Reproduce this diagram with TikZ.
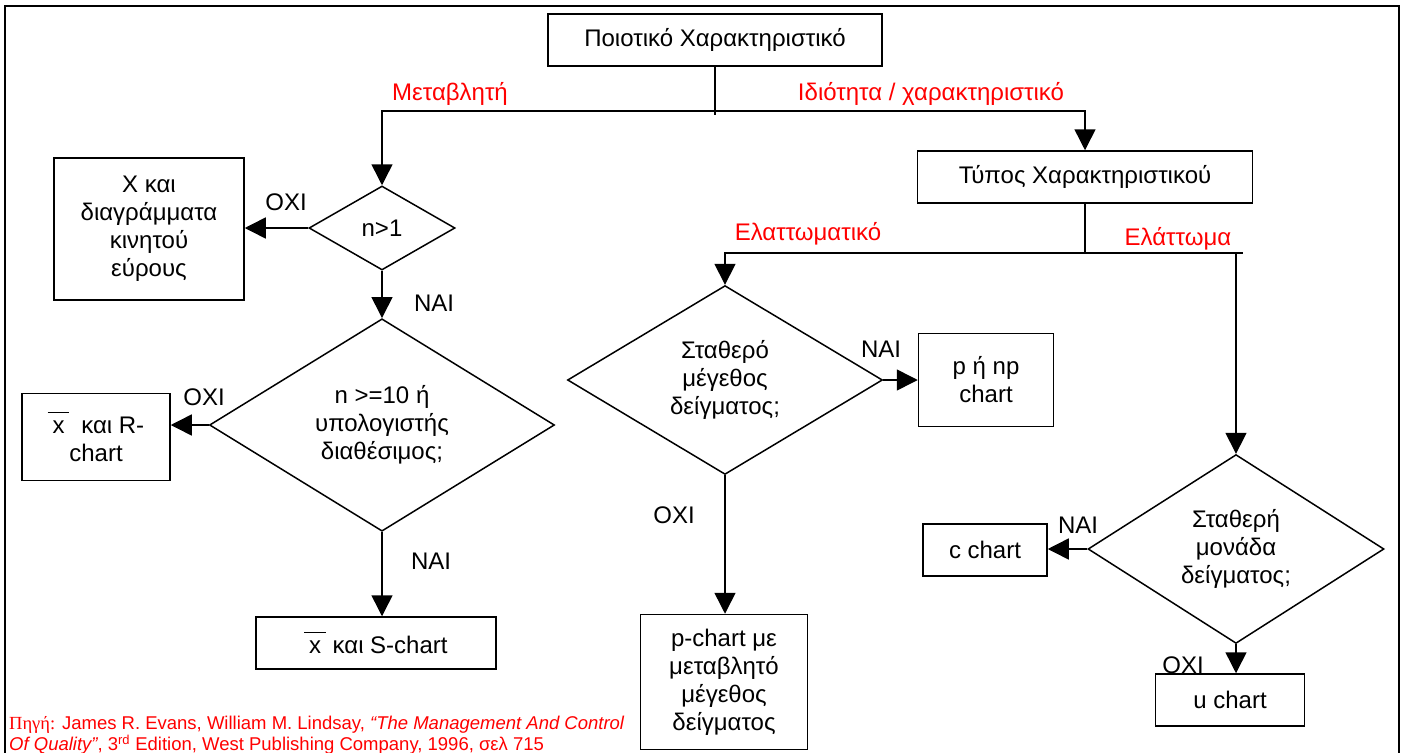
\documentclass[tikz,border=0pt]{standalone}
\usepackage{fontspec}
\setmainfont{Liberation Sans}
\newfontfamily\serifgr{Liberation Serif}
\usetikzlibrary{shapes.geometric,arrows.meta,positioning}

\newcommand{\xbar}{\hspace{0.2em}\rlap{\hspace{-0.2em}\raisebox{0.85em}{\rule{0.9em}{1.5pt}}}x\hspace{0.2em}}

\begin{document}
\begin{tikzpicture}[x=1pt,y=-1pt,
    txt/.style={font=\fontsize{24}{28}\selectfont},
    box/.style={txt,draw,line width=1.5pt,align=center,inner sep=0pt},
    ask/.style={txt,draw,diamond,line width=1.5pt,align=center,inner sep=0pt},
    branch/.style={txt,text=red},
    arr/.style={line width=1.5pt,-{Triangle[length=21pt,width=21pt]}}]

    \useasboundingbox (0,0) rectangle (1402,752);
    \draw[line width=1.5pt] (5,800) -- (5,6) -- (1399,6) -- (1399,800);

    \node[box,minimum width=334,minimum height=52] (quality) at (715,40)
    {Ποιοτικό Χαρακτηριστικό};
    \node[box,minimum width=335,minimum height=52] (type) at (1085,177)
    {Τύπος Χαρακτηριστικού};

    \node[ask,minimum width=146,minimum height=84] (n1) at (382,228) {n>1};
    \node[box,minimum width=190,minimum height=142] (moving) at (149,229)
    {X και\\ διαγράμματα\\ κινητού\\ εύρους};

    \node[ask,minimum width=345,minimum height=196] (n10) at (382,425)
    {n >=10 ή\\ υπολογιστής\\ διαθέσιμος;};
    \node[box,minimum width=148,minimum height=87] (xr) at (96,437)
    {\xbar\hspace{0.5em}και R-\\ chart};
    \node[box,minimum width=240,minimum height=52] (xs) at (376,643)
    {\xbar\ και S-chart};

    \node[ask,minimum width=315,minimum height=186] (fixsize) at (725,380)
    {Σταθερό\\ μέγεθος\\ δείγματος;};
    \node[box,minimum width=135,minimum height=93] (pnp) at (986,380)
    {p ή np\\ chart};
    \node[box,minimum width=167,minimum height=135] (pvar) at (724,682)
    {p-chart με\\ μεταβλητό\\ μέγεθος\\ δείγματος};

    \node[ask,minimum width=296,minimum height=188] (fixunit) at (1236,549)
    {Σταθερή\\ μονάδα\\ δείγματος;};
    \node[box,minimum width=124,minimum height=52] (cchart) at (985,550) {c chart};
    \node[box,minimum width=149,minimum height=52] (uchart) at (1230,700) {u chart};

    \coordinate (qsplit) at (715,111);
    \coordinate (tsplit) at (1085,253);
    \coordinate (tend) at (1243,253);

    \draw[line width=1.5pt] (quality.south) -- (715,115);
    \draw[arr] (qsplit) -| (n1.north);
    \draw[arr] (qsplit) -| (type.north);

    \draw[line width=1.5pt] (type.south) -- (tsplit);
    \draw[arr] (tsplit) -| (fixsize.north);
    \draw[line width=1.5pt] (tsplit) -- (tend);
    \draw[arr] (tend -| fixunit.north) -- (fixunit.north);

    \draw[arr] (n1.west) -- (n1.west -| moving.east);
    \draw[arr] (n1.south) -- (n10.north);
    \draw[arr] (n10.west) -- (n10.west -| xr.east);
    \draw[arr] (n10.south) -- (n10.south |- xs.north);

    \draw[arr] (fixsize.east) -- (fixsize.east -| pnp.west);
    \draw[arr] (fixsize.south) -- (fixsize.south |- pvar.north);

    \draw[arr] (fixunit.west) -- (fixunit.west -| cchart.east);
    \draw[arr] (fixunit.south) -- (fixunit.south |- uchart.north);

    \node[branch] (var label) at (450,94) {Μεταβλητή};
    \node[branch] (attr label) at (931,94) {Ιδιότητα / χαρακτηριστικό};
    \node[branch] (defective label) at (808,234) {Ελαττωματικό};
    \node[branch] (defect label) at (1178,239) {Ελάττωμα};

    \node[txt] (no1) at (286,202) {ΟΧΙ};
    \node[txt] (yes1) at (434,303) {ΝΑΙ};
    \node[txt] (no2) at (204,397) {ΟΧΙ};
    \node[txt] (yes2) at (431,561) {ΝΑΙ};
    \node[txt] (yes3) at (881,349) {ΝΑΙ};
    \node[txt] (no3) at (674,515) {ΟΧΙ};
    \node[txt] (yes4) at (1078,525) {ΝΑΙ};
    \node[txt] (no4) at (1183,665) {ΟΧΙ};

    \node[anchor=north west,inner sep=0pt,align=left,text=red,
      font=\fontsize{18.5}{21}\selectfont] (source) at (9,716)
    {{\serifgr Πηγή:} James R. Evans, William M. Lindsay, \textit{“The Management And Control}\\
      \textit{Of Quality”}, 3\textsuperscript{rd} Edition, West Publishing Company, 1996, σελ 715};

\end{tikzpicture}
\end{document}
